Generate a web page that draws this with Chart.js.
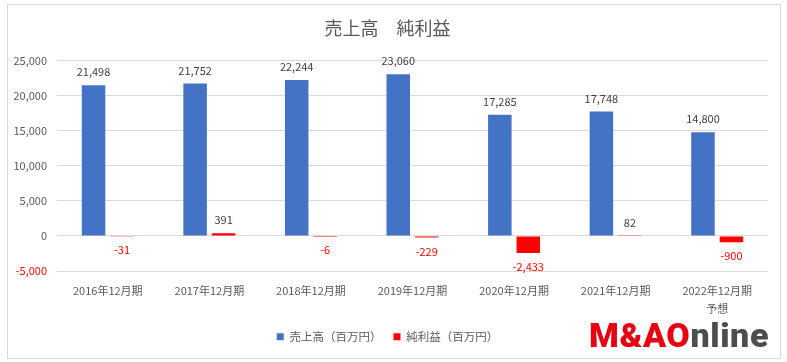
<!DOCTYPE html>
<html>
<head>
<meta charset="utf-8">
<script src="https://cdn.jsdelivr.net/npm/chart.js@4.4.1/dist/chart.umd.min.js"></script>
<style>
  html, body { margin: 0; padding: 0; background: #fff; }
  #wrap { position: relative; width: 787px; height: 362px; }
  #frame { position: absolute; left: 7px; top: 4px; width: 772px; height: 353px; border: 1px solid #d9d9d9; pointer-events: none; }
  #logo { position: absolute; left: 589px; top: 315px; font-family: Roboto, "DejaVu Sans", sans-serif; font-weight: 900; font-size: 34px; letter-spacing: 0.6px; line-height: 40px; }
  #logo .r { color: #e60012; }
  #logo .g { color: #4d4d4d; }
</style>
</head>
<body>
<div id="wrap">
  <canvas id="chart" width="787" height="362"></canvas>
  <div id="frame"></div>
  <div id="logo"><span class="r">M&amp;AO</span><span class="g">nline</span></div>
</div>
<script>
// 売上高・純利益（百万円）
const periods = ['2016年12月期', '2017年12月期', '2018年12月期', '2019年12月期', '2020年12月期', '2021年12月期', ['2022年12月期', '予想']];
const salesValues = [21498, 21752, 22244, 23060, 17285, 17748, 14800];
const profitValues = [-31, 391, -6, -229, -2433, 82, -900];
const yTicks = [-5000, 0, 5000, 10000, 15000, 20000, 25000];

const GRAY = '#595959';
const LABEL_GRAY = '#404040';
const RED = '#ff0000';

Chart.defaults.font.family = '"Noto Sans CJK JP", "Noto Sans", sans-serif';
Chart.defaults.font.size = 11;
Chart.defaults.color = GRAY;

const fmt = v => v.toLocaleString('en-US');

// 棒の上下に値ラベルを描く
const valueLabels = {
    id: 'valueLabels',
    afterDatasetsDraw(chart) {
        const ctx = chart.ctx;
        ctx.save();
        ctx.font = '11px "Noto Sans CJK JP", "Noto Sans", sans-serif';
        ctx.textAlign = 'center';
        ctx.textBaseline = 'middle';
        chart.data.datasets.forEach((ds, i) => {
            const meta = chart.getDatasetMeta(i);
            meta.data.forEach((bar, j) => {
                const v = ds.data[j];
                if (v < 0) {
                    ctx.fillStyle = RED;
                    ctx.fillText(fmt(v), bar.x, bar.y + 14);
                } else {
                    ctx.fillStyle = LABEL_GRAY;
                    ctx.fillText(fmt(v), bar.x, bar.y - 13);
                }
            });
        });
        ctx.restore();
    }
};

new Chart(document.getElementById('chart'), {
    type: 'bar',
    data: {
        labels: periods,
        datasets: [
            {
                label: '売上高（百万円）',
                data: salesValues,
                backgroundColor: '#4472c4',
                categoryPercentage: 0.561,
                barPercentage: 0.825
            },
            {
                label: '純利益（百万円）',
                data: profitValues,
                backgroundColor: RED,
                categoryPercentage: 0.561,
                barPercentage: 0.825
            }
        ]
    },
    options: {
        responsive: false,
        animation: false,
        events: [],
        layout: { padding: { left: 7, right: 19, top: 0, bottom: 9.5 } },
        plugins: {
            title: {
                display: true,
                text: '売上高　純利益',
                color: GRAY,
                font: { size: 18, weight: 'normal' },
                padding: { top: 17, bottom: 22 }
            },
            legend: {
                position: 'bottom',
                labels: {
                    boxWidth: 7,
                    boxHeight: 7,
                    padding: 12,
                    color: GRAY,
                    font: { size: 11.5 }
                }
            },
            tooltip: { enabled: false }
        },
        scales: {
            x: {
                grid: { display: false, drawTicks: false },
                border: { display: false },
                ticks: {
                    color: GRAY,
                    padding: 10,
                    maxRotation: 0,
                    autoSkip: false,
                    font: { size: 11, lineHeight: 1.7 }
                },
                afterFit: s => { s.height = 48; }
            },
            y: {
                min: -5000,
                max: 25000,
                afterBuildTicks: s => { s.ticks = yTicks.map(v => ({ value: v })); },
                grid: { color: '#d9d9d9', drawTicks: false },
                border: { display: false },
                ticks: {
                    padding: 10,
                    color: c => (c.tick && c.tick.value < 0 ? RED : GRAY),
                    callback: v => fmt(v)
                },
                afterFit: s => { s.width = 50; }
            }
        }
    },
    plugins: [valueLabels]
});
</script>
</body>
</html>
